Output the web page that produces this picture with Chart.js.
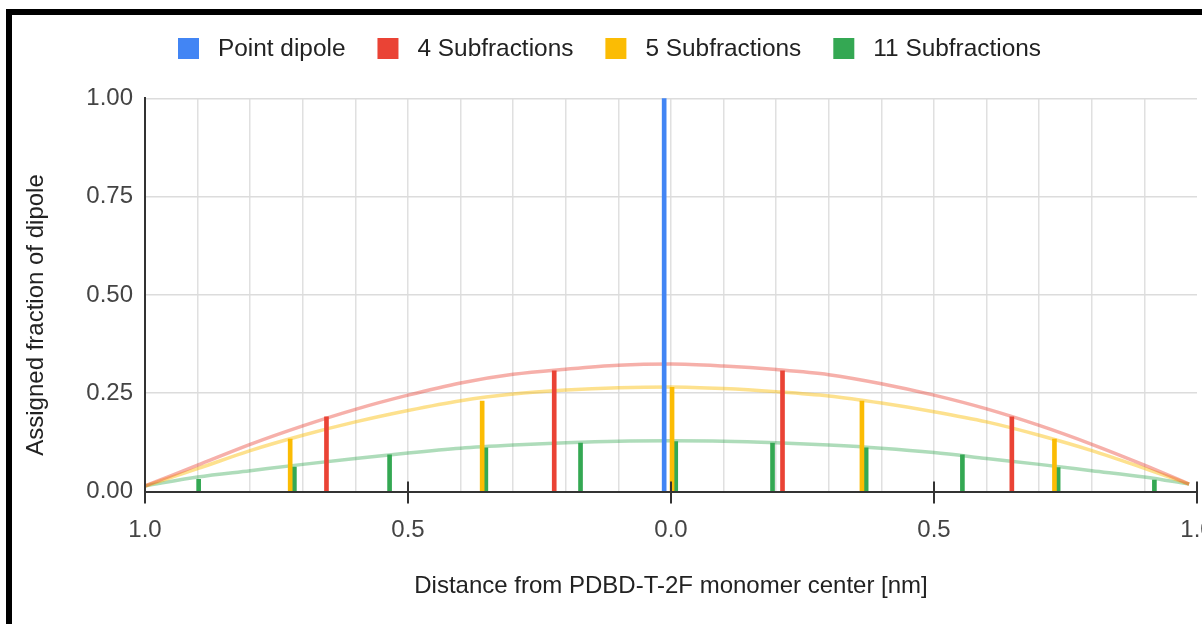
<!DOCTYPE html>
<html>
<head>
<meta charset="utf-8">
<title>Assigned fraction of dipole</title>
<script src="https://cdn.jsdelivr.net/npm/chart.js@4.4.1/dist/chart.umd.min.js"></script>
<style>
  html, body { margin: 0; padding: 0; background: #fff; }
  #wrap { position: relative; width: 1202px; height: 624px; overflow: hidden; }
  #frame {
    position: absolute; left: 6px; top: 9px; width: 1300px; height: 700px;
    border-left: 6px solid #000; border-top: 6px solid #000;
    pointer-events: none; box-sizing: border-box;
  }
  canvas { position: absolute; left: 0; top: 0; }
</style>
</head>
<body>
<div id="wrap">
  <canvas id="chart" width="1202" height="624"></canvas>
  <div id="frame"></div>
</div>
<script>
// Series labels
const seriesLabels = ['Point dipole', '4 Subfractions', '5 Subfractions', '11 Subfractions'];

// Stem positions (nm from monomer center) and assigned fractions
const pointDipoleX = [-0.013];
const pointDipoleY = [1.0];

const sub4X = [-0.655, -0.222, 0.212, 0.648];
const sub4Y = [0.19, 0.307, 0.307, 0.19];

const sub5X = [-0.724, -0.359, 0.002, 0.363, 0.729];
const sub5Y = [0.133, 0.23, 0.265, 0.23, 0.133];

const sub11X = [-0.898, -0.716, -0.535, -0.352, -0.172, 0.009, 0.193, 0.371, 0.554, 0.736, 0.919];
const sub11Y = [0.031, 0.062, 0.093, 0.111, 0.123, 0.127, 0.123, 0.111, 0.093, 0.061, 0.029];

// Envelope curves behind the stems
const curveX  = [-1, -0.9, -0.8, -0.7, -0.6, -0.5, -0.4, -0.3, -0.2, -0.1, 0, 0.1, 0.2, 0.3, 0.4, 0.5, 0.6, 0.7, 0.8, 0.9, 0.985];
const curve4  = [0.014, 0.067, 0.12, 0.167, 0.209, 0.245, 0.276, 0.298, 0.311, 0.321, 0.324, 0.319, 0.31, 0.297, 0.274, 0.245, 0.21, 0.168, 0.12, 0.067, 0.019];
const curve5  = [0.014, 0.058, 0.104, 0.143, 0.177, 0.206, 0.231, 0.248, 0.258, 0.264, 0.266, 0.262, 0.254, 0.243, 0.225, 0.203, 0.177, 0.143, 0.104, 0.059, 0.019];
const curve11 = [0.014, 0.037, 0.053, 0.069, 0.084, 0.098, 0.11, 0.118, 0.124, 0.128, 0.129, 0.128, 0.124, 0.118, 0.11, 0.099, 0.084, 0.069, 0.053, 0.037, 0.019];

// Axis ticks
const xMajorTicks = [-1, -0.5, 0, 0.5, 1];
const xTickLabels = ['1.0', '0.5', '0.0', '0.5', '1.0'];
const yTickStep = 0.25;

const xTitle = 'Distance from PDBD-T-2F monomer center [nm]';
const yTitle = 'Assigned fraction of dipole';

const FONT = "'Liberation Sans', Arial, sans-serif";
const colors = {
  blue: '#4285F4',
  red: '#EA4335',
  yellow: '#FBBC04',
  green: '#34A853'
};

function pairs(xs, ys) {
  return xs.map((x, i) => ({ x: x, y: ys[i] }));
}

function stems(label, xs, ys, color) {
  return {
    type: 'bar',
    label: label,
    data: pairs(xs, ys),
    backgroundColor: color,
    borderWidth: 0,
    barThickness: 4,
    grouped: false,
    order: 1,
    isSeries: true
  };
}

function envelope(label, ys, color) {
  return {
    type: 'line',
    label: label,
    data: pairs(curveX, ys),
    borderColor: color,
    borderWidth: 3.5,
    pointRadius: 0,
    fill: false,
    cubicInterpolationMode: 'monotone',
    order: 5
  };
}

// Legend, axis titles and the major tick marks on the x axis
const decorations = {
  id: 'decorations',
  afterDatasetsDraw(chart) {
    const ctx = chart.ctx;
    const xs = chart.scales.x, ys = chart.scales.y;
    const y0 = ys.getPixelForValue(0);
    ctx.save();
    ctx.strokeStyle = '#333';
    ctx.lineWidth = 2;
    xMajorTicks.forEach(v => {
      const px = Math.round(xs.getPixelForValue(v));
      ctx.beginPath();
      ctx.moveTo(px, y0 - 10);
      ctx.lineTo(px, y0 + 12);
      ctx.stroke();
    });
    ctx.restore();
  },
  afterDraw(chart) {
    const ctx = chart.ctx;
    const area = chart.chartArea;
    ctx.save();

    // axis titles
    ctx.fillStyle = '#222';
    ctx.font = '24px ' + FONT;
    ctx.textAlign = 'center';
    ctx.textBaseline = 'middle';
    ctx.fillText(xTitle, (area.left + area.right) / 2, 586);

    ctx.save();
    ctx.translate(36, 315);
    ctx.rotate(-Math.PI / 2);
    ctx.fillText(yTitle, 0, 0);
    ctx.restore();

    // legend
    ctx.font = '24.4px ' + FONT;
    const items = chart.data.datasets.filter(d => d.isSeries);
    const box = 21, gap = 19, spacing = 32;
    let x = 178;
    const cy = 48.5;
    ctx.textAlign = 'left';
    items.forEach(d => {
      ctx.fillStyle = d.backgroundColor;
      ctx.fillRect(x, cy - box / 2, box, box);
      ctx.fillStyle = '#222';
      ctx.fillText(d.label, x + box + gap, cy + 1);
      x += box + gap + ctx.measureText(d.label).width + spacing;
    });
    ctx.restore();
  }
};

new Chart(document.getElementById('chart'), {
  type: 'bar',
  data: {
    datasets: [
      envelope('4 Subfractions envelope', curve4, 'rgba(234, 67, 53, 0.42)'),
      envelope('5 Subfractions envelope', curve5, 'rgba(251, 188, 4, 0.45)'),
      envelope('11 Subfractions envelope', curve11, 'rgba(52, 168, 83, 0.4)'),
      stems(seriesLabels[0], pointDipoleX, pointDipoleY, colors.blue),
      stems(seriesLabels[1], sub4X, sub4Y, colors.red),
      stems(seriesLabels[2], sub5X, sub5Y, colors.yellow),
      stems(seriesLabels[3], sub11X, sub11Y, colors.green)
    ]
  },
  options: {
    responsive: false,
    animation: false,
    devicePixelRatio: 1,
    layout: { padding: { left: 0, right: 5, top: 98.3, bottom: 0 } },
    plugins: {
      legend: { display: false },
      tooltip: { enabled: false }
    },
    scales: {
      x: {
        type: 'linear',
        min: -1,
        max: 1,
        offset: false,
        ticks: {
          stepSize: 0.1,
          autoSkip: false,
          maxRotation: 0,
          padding: 24,
          color: '#444',
          font: { size: 24, family: FONT },
          callback: (v) => {
            const i = xMajorTicks.findIndex(t => Math.abs(t - v) < 1e-6);
            return i >= 0 ? xTickLabels[i] : '';
          }
        },
        grid: {
          offset: false,
          drawTicks: false,
          lineWidth: 1.5,
          color: (c) => (c.tick && Math.abs(Math.abs(c.tick.value) - 1) < 1e-6) ? 'rgba(0,0,0,0)' : '#e0e0e0'
        },
        border: { color: '#333', width: 2 },
        afterFit(scale) {
          scale.height = 132.5;
          scale.paddingLeft = 0;
          scale.paddingRight = 0;
        }
      },
      y: {
        min: 0,
        max: 1,
        ticks: {
          stepSize: yTickStep,
          padding: 12,
          color: '#444',
          font: { size: 24, family: FONT },
          callback: (v) => Number(v).toFixed(2)
        },
        grid: {
          drawTicks: false,
          lineWidth: 1.5,
          color: '#dcdcdc'
        },
        border: { color: '#333', width: 2 },
        afterFit(scale) {
          scale.width = 145;
        }
      }
    }
  },
  plugins: [decorations]
});
</script>
</body>
</html>
